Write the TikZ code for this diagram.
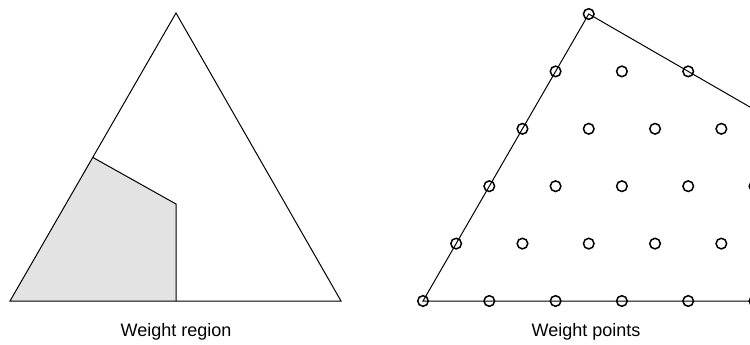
\documentclass[tikz,border=0pt]{standalone}
\usepackage{fontspec}
\setmainfont{Liberation Sans}
\begin{document}
\begin{tikzpicture}[x=1pt,y=-1pt,
  edge/.style={line width=1pt, line join=miter},
  lattpt/.style={line width=1.5pt},
  lbl/.style={font=\fontsize{18}{21}\selectfont, anchor=base, inner sep=0pt}]
\useasboundingbox (0,0) rectangle (750,345);
\clip (0,0) rectangle (750,345);
% left triangle
\coordinate (A) at (10,301);
\coordinate (B) at (341,301);
\coordinate (C) at (176,13);
\coordinate (G1) at (93,157.5);
\coordinate (G2) at (176,204);
\coordinate (G3) at (176,301);
\fill[black!11] (A) -- (G1) -- (G2) -- (G3) -- cycle;
\draw[edge] (G1) -- (G2) -- (G3);
\draw[edge] (A) -- (B) -- (C) -- cycle;
\node[lbl] (L1) at (176,336) {Weight region};
% right triangle
\def\uu{66.3}
\def\hh{57.4}
\coordinate (P) at (423,301);
\coordinate (Q) at (1086,301);
\coordinate (R) at (588.75,14);
\draw[edge] (P) -- (Q) -- (R) -- cycle;
\foreach \j in {0,...,5}{
  \pgfmathtruncatemacro{\imax}{2*(5-\j)}
  \foreach \i in {0,...,\imax}{
    \draw[lattpt] ({423+\j*\uu/2+\i*\uu},{301-\j*\hh}) circle (5.3);
  }
}
\node[lbl] (L2) at (586,336) {Weight points};
\end{tikzpicture}
\end{document}
